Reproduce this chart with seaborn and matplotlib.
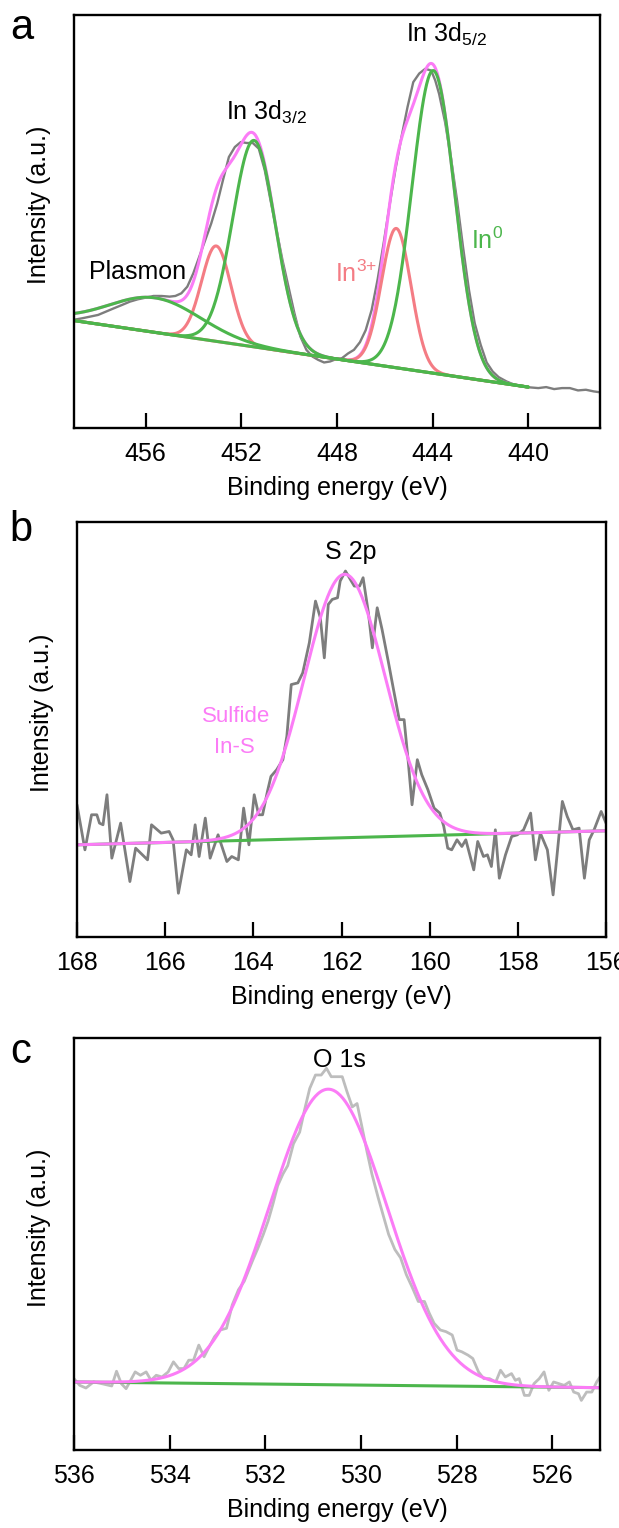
import numpy as np
import matplotlib

matplotlib.use("Agg")
import matplotlib.pyplot as plt
import seaborn as sns

# ---------------- panel a: In 3d ----------------
a_energy = [459.03, 458.65, 458.32, 457.99, 457.66, 457.33, 456.99, 456.66, 456.33, 456.00,
            455.67, 455.34, 455.00, 454.76, 454.51, 454.26, 454.01, 453.76, 453.51, 453.26,
            453.01, 452.77, 452.52, 452.27, 452.02, 451.77, 451.52, 451.27, 451.02, 450.78,
            450.53, 450.28, 450.03, 449.78, 449.53, 449.28, 449.03, 448.79, 448.54, 448.29,
            448.04, 447.79, 447.54, 447.29, 447.04, 446.80, 446.55, 446.30, 446.05, 445.80,
            445.55, 445.30, 445.05, 444.81, 444.56, 444.31, 444.06, 443.89, 443.73, 443.48,
            443.23, 442.98, 442.73, 442.48, 442.24, 441.99, 441.74, 441.49, 441.24, 440.91,
            440.58, 440.25, 439.91, 439.58, 439.25, 438.92, 438.59, 438.26, 437.92, 437.59,
            437.26, 436.96]
a_raw = [32.5, 33.0, 33.5, 34.0, 35.0, 36.0, 37.0, 38.0, 38.7, 39.2,
         39.7, 39.7, 39.5, 39.7, 40.5, 42.5, 46.5, 51.5, 56.5, 61.5,
         67.5, 74.5, 81.5, 84.5, 86.0, 85.7, 85.7, 84.0, 77.5, 68.5,
         59.5, 50.5, 42.5, 34.5, 27.5, 23.5, 21.5, 20.5, 19.7, 20.0,
         20.7, 21.0, 22.4, 23.5, 25.8, 29.4, 35.5, 44.7, 55.5, 67.0,
         78.0, 87.6, 96.5, 104.0, 106.6, 108.0, 107.5, 104.5, 100.5, 92.0,
         81.0, 68.5, 54.5, 41.5, 31.5, 25.0, 19.7, 17.0, 15.3, 14.0,
         13.0, 12.5, 12.2, 12.0, 12.3, 11.7, 12.0, 12.0, 11.3, 11.5,
         11.0, 10.7]
a_fit_range = [459.0, 440.0]
a_baseline = [32.3, 12.3]
# fitted components: plasmon, In3+ 3d3/2, In0 3d3/2, In3+ 3d5/2, In0 3d5/2
a_names = ["plasmon", "in3_32", "in0_32", "in3_52", "in0_52"]
a_centers = [455.6, 453.05, 451.47, 445.52, 443.97]
a_heights = [10.4, 28.7, 62.1, 41.9, 91.0]
a_fwhm = [4.5, 1.45, 2.1, 1.45, 2.1]

# ---------------- panel b: S 2p ----------------
b_energy = [168.00, 167.82, 167.67, 167.55, 167.49, 167.41, 167.32, 167.21, 167.01, 166.80,
            166.67, 166.40, 166.31, 166.09, 165.91, 165.82, 165.70, 165.52, 165.41, 165.32,
            165.23, 165.09, 164.98, 164.80, 164.60, 164.49, 164.34, 164.22, 164.10, 163.98,
            163.88, 163.79, 163.68, 163.60, 163.47, 163.33, 163.24, 163.14, 162.99, 162.88,
            162.73, 162.59, 162.48, 162.39, 162.30, 162.21, 162.09, 162.03, 161.91, 161.80,
            161.71, 161.59, 161.51, 161.39, 161.30, 161.19, 161.08, 160.94, 160.82, 160.69,
            160.58, 160.49, 160.40, 160.28, 160.18, 160.04, 159.90, 159.77, 159.68, 159.59,
            159.50, 159.38, 159.27, 159.18, 159.00, 158.91, 158.78, 158.69, 158.60, 158.51,
            158.42, 158.28, 158.14, 158.01, 157.87, 157.71, 157.60, 157.49, 157.33, 157.20,
            156.99, 156.88, 156.75, 156.61, 156.49, 156.38, 156.27, 156.11, 156.00]
b_raw = [39.6, 26.1, 36.6, 36.6, 34.1, 33.6, 42.6, 23.6, 34.1, 16.6,
         26.6, 23.1, 33.6, 31.1, 31.6, 29.1, 13.1, 26.1, 24.6, 33.6,
         24.1, 35.6, 23.6, 30.6, 22.6, 24.1, 23.1, 38.6, 27.6, 42.6,
         36.6, 36.6, 43.6, 48.1, 50.1, 53.1, 60.1, 75.6, 76.1, 79.1,
         88.1, 100.6, 95.6, 83.6, 99.6, 101.1, 101.6, 106.6, 109.6, 107.1,
         105.1, 105.1, 107.6, 97.1, 86.6, 98.6, 92.1, 82.6, 74.1, 65.1,
         65.1, 53.1, 39.6, 53.1, 48.6, 44.1, 38.6, 37.1, 33.1, 26.6,
         26.1, 29.1, 27.1, 29.1, 20.1, 28.6, 24.1, 24.6, 21.1, 32.1,
         17.6, 24.6, 30.1, 30.6, 32.1, 37.1, 23.1, 31.1, 26.1, 12.6,
         40.6, 36.1, 32.1, 32.6, 17.6, 29.1, 32.1, 37.6, 34.1]
b_fit_range = [168.0, 156.0]
b_baseline = [27.6, 31.8]
b_center, b_height, b_fwhm = 161.93, 78.9, 2.17

# ---------------- panel c: O 1s ----------------
c_energy = [536.00, 535.88, 535.75, 535.59, 535.42, 535.21, 535.11, 535.01, 534.91, 534.72,
            534.61, 534.49, 534.39, 534.28, 534.16, 534.03, 533.92, 533.81, 533.70, 533.60,
            533.50, 533.39, 533.28, 533.19, 533.06, 532.94, 532.81, 532.69, 532.56, 532.44,
            532.27, 532.15, 532.04, 531.94, 531.84, 531.74, 531.63, 531.53, 531.41, 531.28,
            531.18, 531.07, 530.95, 530.83, 530.72, 530.62, 530.50, 530.39, 530.29, 530.18,
            530.08, 529.97, 529.87, 529.77, 529.64, 529.54, 529.42, 529.29, 529.17, 529.05,
            528.92, 528.80, 528.67, 528.57, 528.47, 528.34, 528.22, 528.09, 527.99, 527.89,
            527.76, 527.66, 527.54, 527.43, 527.31, 527.18, 527.08, 526.98, 526.85, 526.77,
            526.69, 526.58, 526.48, 526.38, 526.27, 526.17, 526.07, 525.97, 525.86, 525.75,
            525.64, 525.55, 525.45, 525.39, 525.28, 525.17, 525.07, 525.00]
c_raw = [21.3, 19.3, 18.5, 20.3, 19.8, 19.1, 23.5, 19.8, 18.3, 23.3,
         22.3, 23.3, 20.8, 22.3, 21.8, 23.3, 26.3, 24.3, 24.3, 26.8,
         26.8, 31.3, 27.8, 30.3, 33.8, 35.8, 36.3, 43.3, 47.8, 50.3,
         56.3, 60.3, 64.3, 68.3, 73.3, 78.8, 82.3, 84.8, 91.3, 94.8,
         101.3, 107.8, 111.8, 111.8, 113.8, 111.3, 111.3, 111.3, 106.8, 102.3,
         103.3, 95.8, 88.8, 82.3, 75.3, 70.3, 64.3, 59.8, 57.3, 52.3,
         48.3, 44.3, 44.3, 40.8, 37.8, 35.8, 35.3, 34.3, 29.8, 29.3,
         28.3, 27.3, 23.3, 21.3, 21.3, 20.3, 23.8, 21.8, 22.8, 20.8,
         21.3, 16.3, 16.3, 19.8, 21.3, 23.3, 17.8, 20.3, 19.8, 19.3,
         20.3, 17.3, 16.8, 14.8, 17.3, 17.3, 20.3, 21.8]
c_fit_range = [536.0, 525.0]
c_baseline = [20.3, 18.6]
c_center, c_height, c_fwhm = 530.68, 88.1, 2.88

GRAY_DARK = "#7d7d7d"
GRAY_LIGHT = "#bdbdbd"
MAGENTA = "#fb7cf6"
RED = "#f47c84"
GREEN = "#4cb64c"
FS = 18


def peak(x, center, height, fwhm):
    # gaussian fit component
    return height * np.exp(-4 * np.log(2) * ((x - center) / fwhm) ** 2)


def line(ax, x, y, color, lw):
    sns.lineplot(x=x, y=y, ax=ax, color=color, linewidth=lw, estimator=None, sort=False)


def style_axis(ax, xlim, ticks, ylim):
    ax.set_xlim(*xlim)
    ax.set_ylim(*ylim)
    ax.set_xticks(ticks)
    ax.set_yticks([])
    ax.tick_params(axis="x", bottom=True, direction="in", length=10.5, width=1.6,
                   pad=10, labelsize=FS, color="black", labelcolor="black")
    for sp in ax.spines.values():
        sp.set_visible(True)
        sp.set_linewidth(1.7)
        sp.set_color("black")
    ax.set_xlabel("Binding energy (eV)", fontsize=FS, labelpad=7, color="black")
    ax.set_ylabel("Intensity (a.u.)", fontsize=FS, color="black")
    ax.yaxis.set_label_coords(-0.043, 0.54)


sns.set_style("white")
plt.rcParams["font.family"] = ["Liberation Sans", "DejaVu Sans"]
plt.rcParams["mathtext.default"] = "regular"
plt.rcParams["text.color"] = "black"

fig = plt.figure(figsize=(6.19, 15.28), dpi=100)
ax_a = fig.add_axes([0.1195, 0.7199, 0.8498, 0.2703])
ax_b = fig.add_axes([0.1244, 0.3868, 0.8546, 0.2716])
ax_c = fig.add_axes([0.1195, 0.0510, 0.8498, 0.2696])

# ---- a ----
xa = np.linspace(a_fit_range[0], a_fit_range[1], 600)
bl_a = np.interp(xa, a_fit_range[::-1], a_baseline[::-1])
comps = {n: peak(xa, c, h, w) for n, c, h, w in zip(a_names, a_centers, a_heights, a_fwhm)}
envelope = bl_a + sum(comps.values())
line(ax_a, a_energy, a_raw, GRAY_DARK, 1.7)
line(ax_a, xa, envelope, MAGENTA, 2.2)
line(ax_a, xa, bl_a + comps["in3_32"], RED, 2.2)
line(ax_a, xa, bl_a + comps["in3_52"], RED, 2.2)
line(ax_a, xa, bl_a + comps["plasmon"], GREEN, 2.2)
line(ax_a, xa, bl_a + comps["in0_32"], GREEN, 2.2)
line(ax_a, xa, bl_a + comps["in0_52"], GREEN, 2.2)
style_axis(ax_a, (459.0, 437.0), [456, 452, 448, 444, 440], (0, 124.2))
ax_a.text(443.43, 116.0, "In 3d$_{5/2}$", fontsize=FS, ha="center", va="baseline")
ax_a.text(450.94, 92.7, "In 3d$_{3/2}$", fontsize=FS, ha="center", va="baseline")
ax_a.text(456.33, 44.7, "Plasmon", fontsize=FS, ha="center", va="baseline")
ax_a.text(447.21, 44.0, "In$^{3{+}}$", fontsize=FS, ha="center", va="baseline", color=RED)
ax_a.text(441.74, 53.7, "In$^{0}$", fontsize=FS, ha="center", va="baseline", color=GREEN)

# ---- b ----
xb = np.linspace(b_fit_range[0], b_fit_range[1], 400)
bl_b = np.interp(xb, b_fit_range[::-1], b_baseline[::-1])
line(ax_b, b_energy, b_raw, GRAY_DARK, 2.0)
line(ax_b, xb, bl_b, GREEN, 2.2)
line(ax_b, xb, bl_b + peak(xb, b_center, b_height, b_fwhm), MAGENTA, 2.2)
style_axis(ax_b, (168, 156), [168, 166, 164, 162, 160, 158, 156], (0, 124.3))
ax_b.text(161.79, 113.1, "S 2p", fontsize=FS, ha="center", va="baseline")
ax_b.text(164.40, 64.3, "Sulfide", fontsize=16, ha="center", va="baseline", color=MAGENTA)
ax_b.text(164.44, 55.1, "In-S", fontsize=16, ha="center", va="baseline", color=MAGENTA)

# ---- c ----
xc = np.linspace(c_fit_range[0], c_fit_range[1], 400)
bl_c = np.interp(xc, c_fit_range[::-1], c_baseline[::-1])
line(ax_c, c_energy, c_raw, GRAY_LIGHT, 2.0)
line(ax_c, xc, bl_c, GREEN, 2.2)
line(ax_c, xc, bl_c + peak(xc, c_center, c_height, c_fwhm), MAGENTA, 2.2)
style_axis(ax_c, (536, 525), [536, 534, 532, 530, 528, 526], (0, 122.8))
ax_c.text(530.45, 114.3, "O 1s", fontsize=FS, ha="center", va="baseline")

fig.text(0.035, 1 - 39 / 1528, "a", fontsize=30, ha="center", va="baseline")
fig.text(0.034, 1 - 541 / 1528, "b", fontsize=30, ha="center", va="baseline")
fig.text(0.033, 1 - 1063 / 1528, "c", fontsize=30, ha="center", va="baseline")

fig.savefig("out.png", dpi=100)
